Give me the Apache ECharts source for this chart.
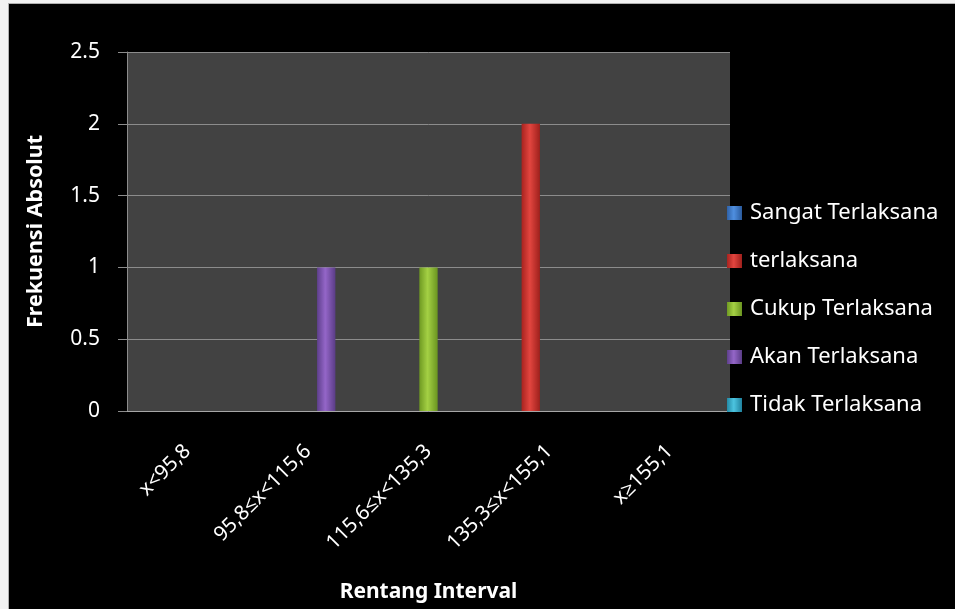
<!DOCTYPE html>
<html>
<head>
<meta charset="utf-8">
<script src="https://cdn.jsdelivr.net/npm/echarts@6/dist/echarts.min.js"></script>
<style>
  html, body { margin: 0; padding: 0; background: #f2f2f2; width: 955px; height: 609px; overflow: hidden; }
  #chart { position: absolute; left: 8px; top: 3px; width: 947px; height: 606px; border-left: 1px solid #b0b0b0; border-top: 1px solid #b0b0b0; box-sizing: border-box; }
</style>
</head>
<body>
<div id="chart"></div>
<script>
// ---- data ----
var categories = ['x<95,8', '95,8≤x<115,6', '115,6≤x<135,3', '135,3≤x<155,1', 'x≥155,1'];
var seriesNames = ['Sangat Terlaksana', 'terlaksana', 'Cukup Terlaksana', 'Akan Terlaksana', 'Tidak Terlaksana'];
var sangatTerlaksana = [0, 0, 0, 0, 0];
var terlaksana       = [0, 0, 0, 2, 0];
var cukupTerlaksana  = [0, 0, 1, 0, 0];
var akanTerlaksana   = [0, 1, 0, 0, 0];
var tidakTerlaksana  = [0, 0, 0, 0, 0];
var yMin = 0, yMax = 2.5, yInterval = 0.5;

var seriesValues = [sangatTerlaksana, terlaksana, cukupTerlaksana, akanTerlaksana, tidakTerlaksana];
var palette = [
  ['#2f62a8', '#4f8fe0', '#2a5a9c'],
  ['#a8231f', '#e2453f', '#9e201c'],
  ['#6f9a22', '#a4d044', '#6a9420'],
  ['#5e3f8c', '#9466c8', '#5a3c86'],
  ['#238aa6', '#4cc4e0', '#20829e']
];

function grad(c) {
  return new echarts.graphic.LinearGradient(0, 0, 1, 0, [
    { offset: 0, color: c[0] },
    { offset: 0.45, color: c[1] },
    { offset: 1, color: c[2] }
  ]);
}

var chart = echarts.init(document.getElementById('chart'), null, { renderer: 'canvas' });
var font = '"Noto Sans", "Open Sans", sans-serif';

var series = seriesNames.map(function (name, i) {
  return {
    name: name,
    type: 'bar',
    data: seriesValues[i],
    barGap: '0%',
    barCategoryGap: '24%',
    itemStyle: { color: grad(palette[i]) },
    emphasis: { disabled: true }
  };
});

chart.setOption({
  backgroundColor: '#000000',
  animation: false,
  textStyle: { fontFamily: font },
  grid: {
    left: 118, top: 48, right: 225, bottom: 198,
    show: true, backgroundColor: '#424242', borderWidth: 0,
    containLabel: false
  },
  legend: {
    orient: 'vertical',
    left: 713, top: 192,
    itemWidth: 15, itemHeight: 14,
    itemGap: 24,
    icon: 'rect',
    textStyle: { color: '#ffffff', fontSize: 22, fontFamily: font, lineHeight: 24, padding: [0, 0, 0, 3] },
    data: seriesNames
  },
  xAxis: {
    type: 'category',
    data: categories,
    name: 'Rentang Interval',
    nameLocation: 'middle',
    nameGap: 171,
    nameTextStyle: { color: '#ffffff', fontSize: 21, fontWeight: 'bold', fontFamily: font },
    axisLine: { show: true, lineStyle: { color: '#a6a6a6', width: 1 } },
    axisTick: { show: false },
    axisLabel: {
      color: '#ffffff', fontSize: 20.5, fontFamily: font,
      rotate: 45, margin: 37, interval: 0,
      align: 'right', verticalAlign: 'middle'
    },
    splitLine: { show: false }
  },
  yAxis: {
    type: 'value',
    min: yMin, max: yMax, interval: yInterval,
    name: 'Frekuensi Absolut',
    nameLocation: 'middle',
    nameGap: 80,
    nameTextStyle: { color: '#ffffff', fontSize: 21.5, fontWeight: 'bold', fontFamily: font },
    axisLine: { show: true, lineStyle: { color: '#8c8c8c', width: 1 } },
    axisTick: { show: true, inside: false, length: 9, lineStyle: { color: '#8c8c8c' } },
    axisLabel: { color: '#ffffff', fontSize: 21, fontFamily: font, margin: 27 },
    splitLine: { show: true, lineStyle: { color: '#8c8c8c', width: 1 } }
  },
  series: series
});
</script>
</body>
</html>
